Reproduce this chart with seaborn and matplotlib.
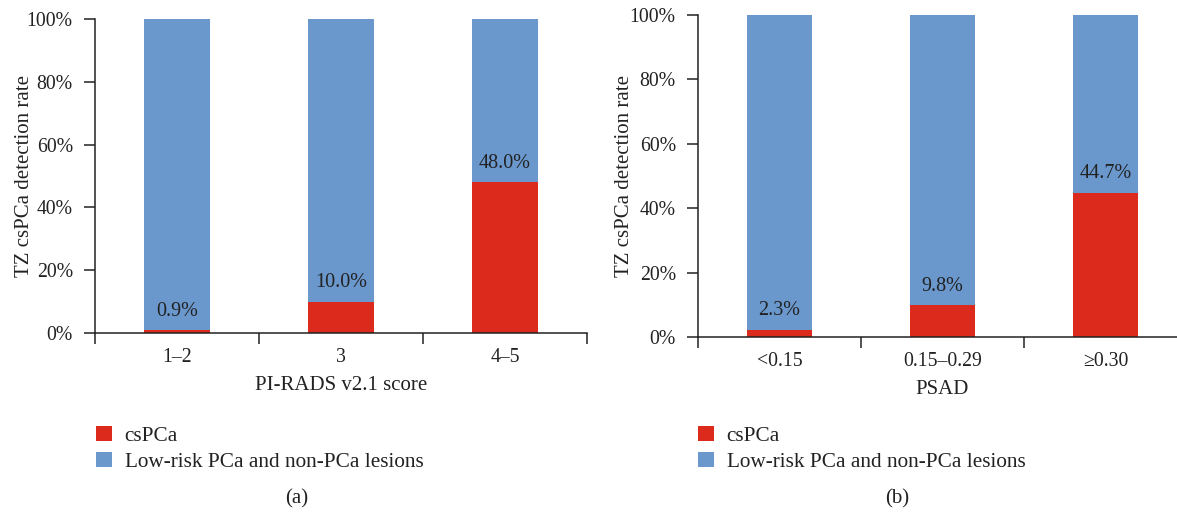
import matplotlib
matplotlib.use("Agg")
import matplotlib.pyplot as plt
import seaborn as sns
import pandas as pd
from matplotlib.patches import Patch
from matplotlib.ticker import FixedLocator, PercentFormatter

# ---- data ----
pirads_cats = ["1\u20132", "3", "4\u20135"]
pirads_cspca = [0.9, 10.0, 48.0]
psad_cats = ["<0.15", "0.15\u20130.29", "\u22650.30"]
psad_cspca = [2.3, 9.8, 44.7]
series_names = ["csPCa", "Low-risk PCa and non-PCa lesions"]
panel_xlabels = ["PI-RADS v2.1 score", "PSAD"]
panel_tags = ["(a)", "(b)"]
ylabel = "TZ csPCa detection rate"

RED = "#DC2A1C"
BLUE = "#6A98CD"
INK = "#222222"

sns.set_theme(style="white")
plt.rcParams["font.family"] = ["Liberation Serif", "DejaVu Serif"]
plt.rcParams["text.color"] = INK

fig = plt.figure(figsize=(11.77, 5.13), dpi=100)
W, H = 1177, 513

def add_axes(x0, x1, ytop, ybot):
    return fig.add_axes([x0 / W, 1 - ybot / H, (x1 - x0) / W, (ybot - ytop) / H])

axes = [add_axes(95, 587, 19, 333), add_axes(698, 1187, 15, 337)]
panels = [(pirads_cats, pirads_cspca), (psad_cats, psad_cspca)]
ylabel_x = [-0.124, -0.130]

FS = 15
TFS = 14.2

for i, (ax, (cats, vals)) in enumerate(zip(axes, panels)):
    df = pd.DataFrame({"cat": cats, "cs": vals, "total": [100.0] * len(cats)})
    sns.barplot(data=df, x="cat", y="total", color=BLUE, width=0.4, ax=ax,
                saturation=1, linewidth=0)
    sns.barplot(data=df, x="cat", y="cs", color=RED, width=0.4, ax=ax,
                saturation=1, linewidth=0)
    ax.set_xlim(-0.5, 2.5)
    ax.set_ylim(0, 100)
    for j, v in enumerate(vals):
        ax.text(j, v + 6.0, f"{v:.1f}%", ha="center", va="center", fontsize=14.5)
    sns.despine(ax=ax)
    for s in ["left", "bottom"]:
        ax.spines[s].set_color(INK)
        ax.spines[s].set_linewidth(1.1)
    ax.yaxis.set_major_locator(FixedLocator([0, 20, 40, 60, 80, 100]))
    ax.yaxis.set_major_formatter(PercentFormatter(decimals=0))
    ax.tick_params(axis="y", which="major", left=True, length=8, width=1.1,
                   color=INK, labelsize=TFS, pad=8, labelcolor=INK)
    ax.tick_params(axis="x", which="major", bottom=False, labelsize=TFS, pad=5,
                   labelcolor=INK)
    ax.xaxis.set_minor_locator(FixedLocator([-0.5, 0.5, 1.5, 2.5]))
    ax.tick_params(axis="x", which="minor", bottom=True, length=8, width=1.1,
                   color=INK, direction="out")
    ax.set_xlabel(panel_xlabels[i], fontsize=FS, labelpad=6, color=INK)
    ax.set_ylabel(ylabel, fontsize=FS, color=INK)
    ax.yaxis.set_label_coords(ylabel_x[i], 0.5)
    ax.set_facecolor("white")

# legends and panel tags
legend_x = [95, 697]
tag_x = [297, 897]
handles = [Patch(facecolor=RED, edgecolor="none"), Patch(facecolor=BLUE, edgecolor="none")]
for i in range(2):
    fig.legend(handles, series_names, loc="upper left",
               bbox_to_anchor=(legend_x[i] / W - 0.0065, 1 - 417 / H),
               frameon=False, fontsize=15.3, handlelength=0.77, handleheight=0.75,
               handletextpad=0.58, labelspacing=0.28, borderaxespad=0)
    fig.text(tag_x[i] / W, 1 - 499 / H, panel_tags[i], ha="center", va="center",
             fontsize=FS)

fig.savefig("out.png", dpi=100, facecolor="white")
